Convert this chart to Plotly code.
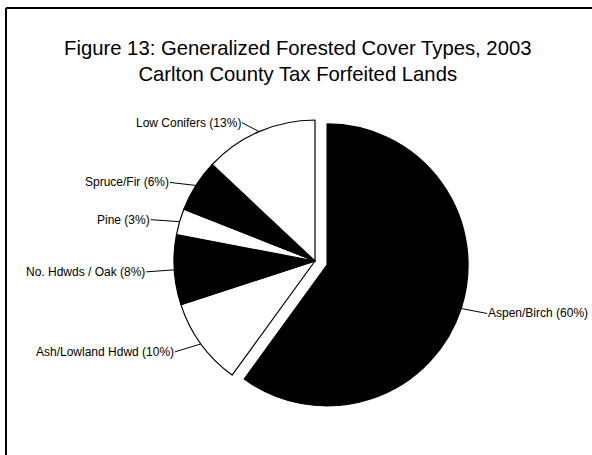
import math
import plotly.graph_objects as go

# ---- data ----
labels = ["Aspen/Birch", "Ash/Lowland Hdwd", "No. Hdwds / Oak", "Pine", "Spruce/Fir", "Low Conifers"]
values = [60, 10, 8, 3, 6, 13]
colors = ["black", "white", "black", "white", "black", "white"]
pulls = [0.09, 0, 0, 0, 0, 0]

W, H = 592, 455
cx, cy, r = 315, 261, 141          # pie centre / radius in pixels
half = r * (1 + max(pulls))        # plotly shrinks radius by (1+maxpull)

def px(x):
    return x / W

def py(y):
    return 1 - y / H

fig = go.Figure(go.Pie(
    labels=labels, values=values, sort=False, direction="clockwise", rotation=0,
    marker=dict(colors=colors, line=dict(color="black", width=1.2)),
    pull=pulls, textinfo="none", hoverinfo="skip", showlegend=False,
    domain=dict(x=[px(cx - half), px(cx + half)], y=[py(cy + half), py(cy - half)]),
))

# label offsets (text anchor position relative to slice edge point), pixels
offsets = [(26, 5), (-26, 8), (-28, 2), (-29, -2), (-26, -3), (-17, -9)]

total = sum(values)
cum = 0
annotations = []
for lab, v, p, (ox, oy) in zip(labels, values, pulls, offsets):
    mid = (cum + v / 2) / total * 2 * math.pi
    cum += v
    sx, sy = math.sin(mid), -math.cos(mid)
    ccx, ccy = cx + p * r * sx, cy + p * r * sy
    ex, ey = ccx + r * sx, ccy + r * sy
    pct = round(100 * v / total)
    annotations.append(dict(
        x=px(ex), y=py(ey), xref="paper", yref="paper",
        text=f"{lab} ({pct}%)", showarrow=True, arrowhead=0, arrowwidth=1,
        arrowcolor="black", ax=ox, ay=oy, standoff=0,
        xanchor="left" if ox > 0 else "right", yanchor="middle",
        font=dict(family="Liberation Sans, Arial", size=12, color="black"),
        borderpad=0,
    ))

annotations.append(dict(
    x=0.503, y=py(35), xref="paper", yref="paper", yanchor="top", xanchor="center",
    text="Figure 13: Generalized Forested Cover Types, 2003<br>Carlton County Tax Forfeited Lands",
    showarrow=False, font=dict(family="Liberation Sans, Arial", size=20.3, color="black"),
))

shapes = [
    dict(type="line", xref="paper", yref="paper", x0=px(6), y0=0, x1=px(6), y1=py(8),
         line=dict(color="black", width=2)),
    dict(type="line", xref="paper", yref="paper", x0=px(6), y0=py(8), x1=1, y1=py(8),
         line=dict(color="black", width=2)),
]

fig.update_layout(
    width=W, height=H, margin=dict(l=0, r=0, t=0, b=0),
    paper_bgcolor="white", plot_bgcolor="white",
    annotations=annotations, shapes=shapes,
)

fig.write_html("out.html")
